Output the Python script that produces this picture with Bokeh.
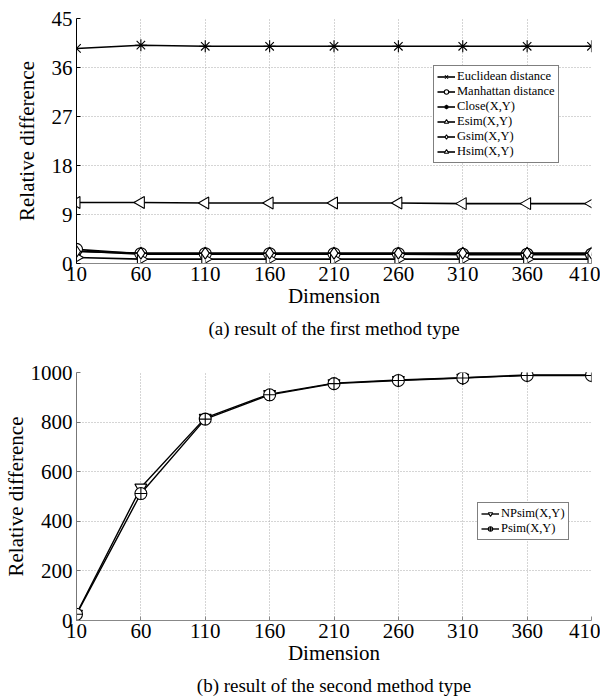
import math
from bokeh.plotting import figure
from bokeh.models import Legend, LegendItem, Title, FixedTicker, Range1d
from bokeh.layouts import column
from bokeh.embed import file_html
from bokeh.resources import INLINE

dims = [10, 60, 110, 160, 210, 260, 310, 360, 410]

euclid = [2.3, 1.7, 1.7, 1.7, 1.7, 1.7, 1.6, 1.6, 1.6]
manhattan = [2.6, 1.8, 1.8, 1.8, 1.8, 1.8, 1.7, 1.7, 1.7]
close = [39.5, 40.1, 39.9, 39.9, 39.9, 39.9, 39.9, 39.9, 39.9]
esim = [1.1, 0.8, 0.8, 0.8, 0.8, 0.8, 0.8, 0.8, 0.8]
gsim = [2.2, 1.9, 1.9, 1.9, 1.9, 1.9, 1.9, 1.9, 1.9]
hsim = [11.2, 11.2, 11.1, 11.1, 11.1, 11.1, 11.0, 11.0, 11.0]

npsim = [27, 536, 817, 913, 957, 970, 979, 990, 990]
psim = [25, 512, 812, 910, 955, 968, 978, 988, 988]

y1_ticks = [0, 9, 18, 27, 36, 45]
y2_ticks = [0, 200, 400, 600, 800, 1000]

FONT = "Liberation Serif"


def style(p, yticks, label_standoff, yaxis_color):
    p.outline_line_color = None
    p.xaxis.ticker = FixedTicker(ticks=dims)
    p.yaxis.ticker = FixedTicker(ticks=yticks)
    for axs in (p.xaxis, p.yaxis):
        axs.major_label_text_font = FONT
        axs.major_label_text_font_size = "21px"
        axs.major_label_text_color = "black"
        axs.axis_label_text_font = FONT
        axs.axis_label_text_font_size = "21px"
        axs.axis_label_text_font_style = "normal"
        axs.axis_label_text_color = "black"
        axs.minor_tick_line_color = None
        axs.major_tick_in = 4
        axs.major_tick_out = 0
    p.xaxis.major_label_standoff = 3
    p.yaxis.major_label_standoff = 4
    p.xaxis.axis_line_color = "#888888"
    p.xaxis.major_tick_line_color = "#888888"
    p.yaxis.axis_line_color = yaxis_color
    p.yaxis.major_tick_line_color = yaxis_color
    p.xaxis.axis_label_standoff = 0
    p.yaxis.axis_label_standoff = label_standoff
    p.grid.grid_line_color = "#aaaaaa"
    p.grid.grid_line_dash = "1 2"
    p.grid.grid_line_width = 1


def leg_style(lg):
    lg.label_text_font = FONT
    lg.label_text_font_size = "12.5px"
    lg.label_text_color = "black"
    lg.label_text_line_height = 1.0
    lg.border_line_color = "black"
    lg.border_line_width = 1
    lg.background_fill_alpha = 1
    lg.glyph_width = 18
    lg.glyph_height = 11
    lg.label_height = 11
    lg.spacing = 0
    lg.padding = 3
    lg.margin = 0
    lg.label_standoff = 2


p1 = figure(width=600, height=343, output_backend="svg", toolbar_location=None,
            x_range=Range1d(10, 410), y_range=Range1d(0, 45),
            x_axis_label="Dimension", y_axis_label="Relative difference",
            min_border_left=68, min_border_right=9, min_border_top=18, min_border_bottom=0)
style(p1, y1_ticks, 10, "black")

series1 = [
    ("Euclidean distance", euclid, "x", 0),
    ("Manhattan distance", manhattan, "circle", 0),
    ("Close(X,Y)", close, "asterisk", 0),
    ("Esim(X,Y)", esim, "triangle", -math.pi / 2),
    ("Gsim(X,Y)", gsim, "diamond", 0),
    ("Hsim(X,Y)", hsim, "triangle", math.pi / 2),
]
items1 = []
for name, ys, mk, ang in series1:
    r_line = p1.line(dims, ys, line_color="black", line_width=1.6)
    r_sc = p1.scatter(dims, ys, marker=mk, angle=ang, size=12, line_color="black",
                      fill_color="white", line_width=1.1)
    items1.append(LegendItem(label=name, renderers=[r_line, r_sc]))

lg1 = Legend(items=items1, location=(357, 100))
leg_style(lg1)
p1.add_layout(lg1, "center")
p1.add_layout(Title(text="(a) result of the first method type", align="center",
                    text_font=FONT, text_font_size="19px", text_font_style="normal",
                    text_color="black"), "below")

p2 = figure(width=600, height=357, output_backend="svg", toolbar_location=None,
            x_range=Range1d(10, 410), y_range=Range1d(0, 1000),
            x_axis_label="Dimension", y_axis_label="Relative difference",
            min_border_left=68, min_border_right=9, min_border_top=29, min_border_bottom=0)
style(p2, y2_ticks, 0, "#777777")

items2 = []
for name, ys, mk in [("NPsim(X,Y)", npsim, "inverted_triangle"), ("Psim(X,Y)", psim, "circle_cross")]:
    r_line = p2.line(dims, ys, line_color="black", line_width=1.4)
    r_sc = p2.scatter(dims, ys, marker=mk, size=12, line_color="black",
                      fill_color="white", line_width=1.1)
    items2.append(LegendItem(label=name, renderers=[r_line, r_sc]))

lg2 = Legend(items=items2, location=(401, 80))
leg_style(lg2)
p2.add_layout(lg2, "center")
p2.add_layout(Title(text="(b) result of the second method type", align="center",
                    text_font=FONT, text_font_size="19px", text_font_style="normal",
                    text_color="black"), "below")

layout = column(p1, p2, spacing=0)
open("out.html", "w").write(file_html(layout, INLINE))
